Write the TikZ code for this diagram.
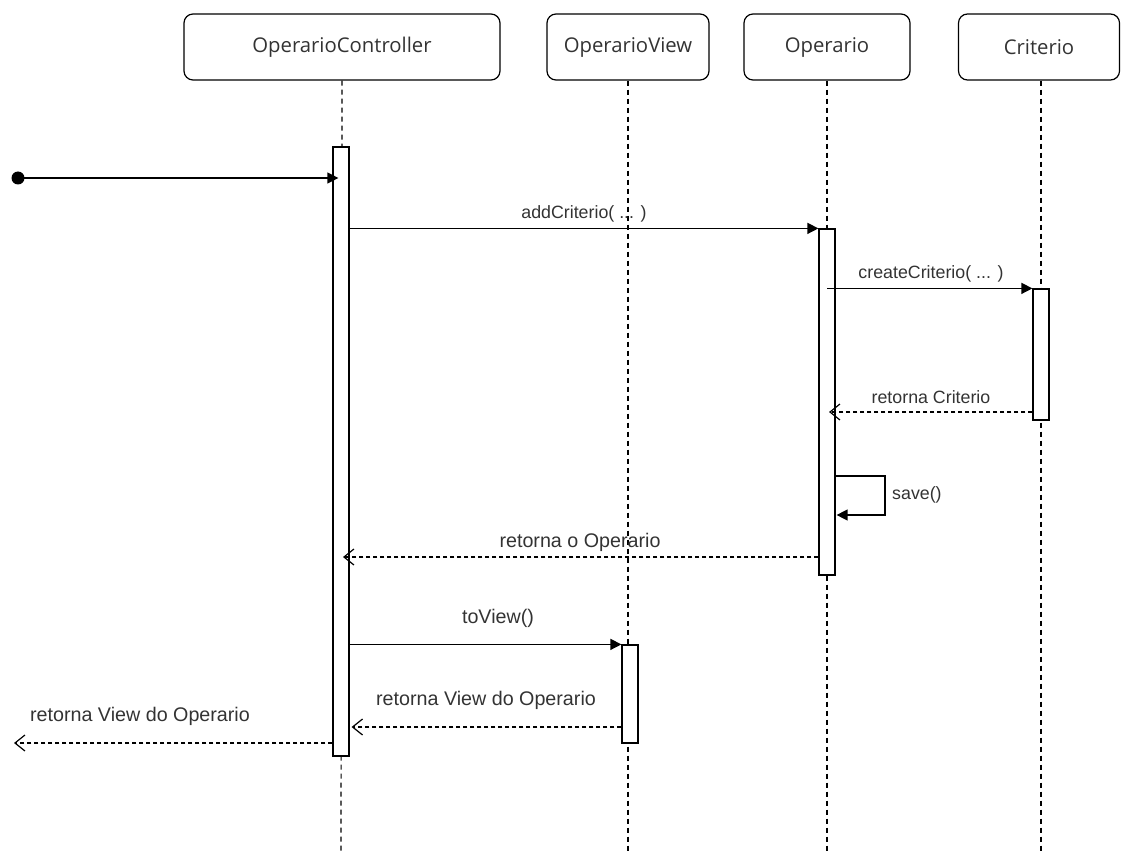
\documentclass[tikz,border=0pt]{standalone}
\usepackage{fontspec}
\setmainfont{Liberation Sans}
\newfontfamily\headfont{Open Sans}
\usetikzlibrary{arrows.meta}
\definecolor{txt}{HTML}{333333}
\begin{document}
\begin{tikzpicture}[x=1pt,y=-1pt,
  head/.style={draw, rounded corners=9pt, line width=1.2pt, minimum height=66pt, inner sep=0pt,
    font=\headfont\fontsize{20.3}{23}\selectfont, text=txt},
  life/.style={line width=1.2pt, dash pattern=on 5pt off 4pt},
  bar/.style={draw, fill=white, line width=1.2pt, minimum width=16pt, inner sep=0pt},
  sync/.style={line width=1.3pt, -{Triangle[length=11pt,width=11pt]}},
  ret/.style={line width=1.2pt, dash pattern=on 4pt off 3pt, -{Straight Barb[length=10pt,width=16pt,line width=1.2pt]}},
  small/.style={font=\fontsize{17.8}{20}\selectfont, text=txt, inner sep=0pt},
  large/.style={font=\fontsize{19.7}{22}\selectfont, text=txt, inner sep=0pt}]
\useasboundingbox (0,0) rectangle (1121,853);
% headers
\node[head, minimum width=316pt] (hc) at (342,47) {OperarioController};
\node[head, minimum width=162pt] (hv) at (628,47) {OperarioView};
\node[head, minimum width=166pt] (ho) at (827,47) {Operario};
\node[head, minimum width=161pt] (hk) at (1039,47) {Criterio};
% lifelines
\coordinate (ec) at (341,853);
\coordinate (ev) at (628,853);
\coordinate (eo) at (827,853);
\coordinate (ek) at (1041,853);
\draw[life] (hc.south) -- (ec);
\draw[life] (hv.south) -- (ev);
\draw[life] (ho.south) -- (eo);
\draw[life] (hk.south -| ek) -- (ek);
% activation bars
\node[bar, minimum height=609pt] (bc) at (341,451.5) {};
\node[bar, minimum height=346pt] (bo) at (827,402) {};
\node[bar, minimum height=131pt] (bk) at (1041,354.5) {};
\node[bar, minimum height=98pt] (bv) at (630,694) {};
% start
\node[circle, fill=black, minimum size=13pt, inner sep=0pt] (start) at (18,178) {};
\draw[sync] (start.center) -- ([xshift=6pt]bc.west |- start);
% addCriterio
\draw[sync] (bc.east |- bo.north) -- (bo.north west);
\node[small] (l1) at (584,214) {addCriterio( ... )};
% createCriterio
\draw[sync] (bo.center |- bk.north) -- (bk.north west);
\node[small] (l2) at (931,274) {createCriterio( ... )};
% retorna Criterio
\draw[ret] (bk.west |- 0,412) -- ([xshift=2pt]bo.center |- 0,412);
\node[small] (l3) at (931,397) {retorna Criterio};
% save
\coordinate (s1) at (885,476);
\coordinate (s2) at (885,515);
\draw[sync] (bo.east |- s1) -- (s1) -- (s2) -- ([xshift=1pt]bo.east |- s2);
\node[small, anchor=west] (l4) at (892,495) {save()};
% retorna o Operario
\draw[ret] (bo.west |- 0,557) -- ([xshift=2pt]bc.center |- 0,557);
\node[large] (l5) at (580,542) {retorna o Operario};
% toView
\draw[sync] (bc.east |- bv.north) -- (bv.north west);
\node[large] (l6) at (498,618) {toView()};
% retorna View (from view)
\draw[ret] (bv.west |- 0,727) -- ([xshift=2pt]bc.east |- 0,727);
\node[large] (l7) at (486,700) {retorna View do Operario};
% retorna View (out)
\coordinate (out) at (14,743);
\draw[ret] (bc.west |- out) -- (out);
\node[large] (l8) at (140,716) {retorna View do Operario};
\end{tikzpicture}
\end{document}
